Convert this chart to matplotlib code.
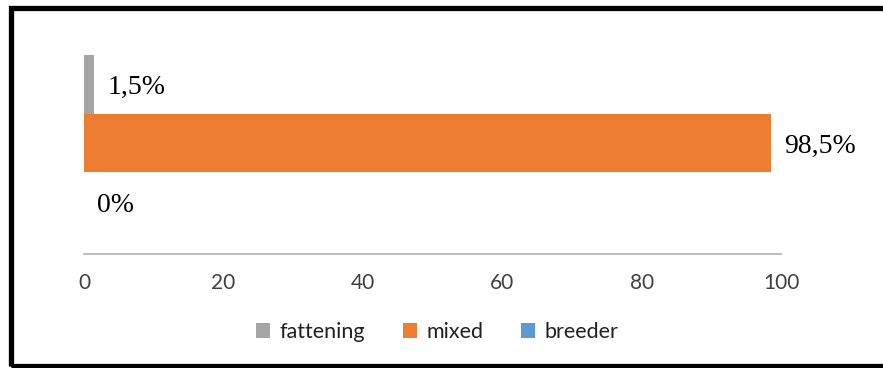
import matplotlib
matplotlib.use("Agg")
import matplotlib.pyplot as plt
from matplotlib.patches import Rectangle, Patch

# Share of farms by type (%)
series = ["fattening", "mixed", "breeder"]
values = [1.5, 98.5, 0.0]
labels = ["1,5%", "98,5%", "0%"]
colors = ["#A5A5A5", "#ED7D31", "#5B9BD5"]
xticks = [0, 20, 40, 60, 80, 100]

fig = plt.figure(figsize=(8.83, 3.68), dpi=100)
W, H = 883, 368

# black frame around the chart area
fig.patches.append(Rectangle((10.5 / W, 2.0 / H), 1.2, (366 - 8.0) / H,
                             transform=fig.transFigure, fill=False,
                             edgecolor="black", linewidth=3.8, zorder=0))

ax = fig.add_axes([84 / W, 114 / H, (781 - 84) / W, (336 - 114) / H])

ypos = [2, 1, 0]
for y, v, lab, c, name in zip(ypos, values, labels, colors, series):
    ax.barh(y, v, height=1.0, color=c, label=name)
    ax.annotate(lab, xy=(v, y), xytext=(9.5, -2.5), textcoords="offset points",
                ha="left", va="center", fontsize=20,
                family="Liberation Serif", color="black")

ax.set_xlim(0, 100)
ax.set_ylim(-0.89, 2.89)
ax.set_xticks(xticks)
ax.set_xticklabels([str(t) for t in xticks], fontsize=15, family="Lato",
                   color="#404040")
ax.set_yticks([])
ax.tick_params(axis="x", length=0, pad=14)
for side in ["top", "right", "left"]:
    ax.spines[side].set_visible(False)
ax.spines["bottom"].set_color("#B0B0B0")
ax.spines["bottom"].set_linewidth(1.2)

handles = [Patch(facecolor=c, edgecolor="none") for c in colors]
fig.legend(handles, series, loc="center", bbox_to_anchor=(0.495, 36 / H),
           ncol=3, frameon=False, prop={"family": "Lato", "size": 15.5},
           handlelength=0.65, handleheight=0.65, handletextpad=0.45,
           columnspacing=1.75, labelcolor="#202020")

fig.savefig("out.png", dpi=100)
